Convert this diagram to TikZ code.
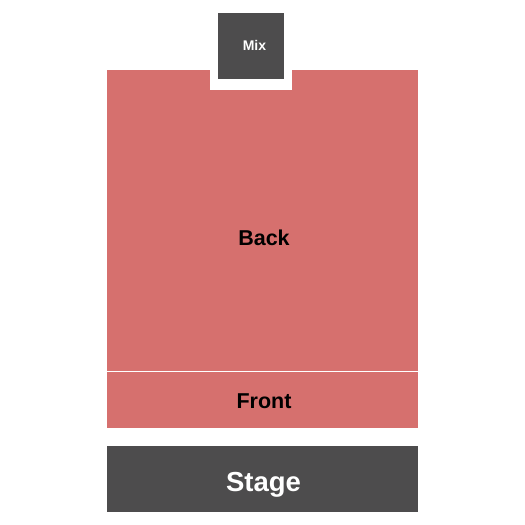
\documentclass[tikz,border=0pt]{standalone}
\usepackage{fontspec}
\setmainfont{Liberation Sans}
\definecolor{seatred}{HTML}{D6706E}
\definecolor{stagegray}{HTML}{4D4C4D}
\begin{document}
\begin{tikzpicture}[x=1pt,y=-1pt,
  section/.style = {fill=seatred, draw=none},
  darkbox/.style = {fill=stagegray, draw=none},
  label/.style = {font=\bfseries, text=black, inner sep=0pt}]
  \useasboundingbox (0,0) rectangle (525,525);
  % seating area
  \fill[seatred] (107,70) rectangle (418,428);
  \fill[white] (210,70) rectangle (292,90);
  \draw[white, line width=0.8pt] (107,371) -- (418,371);
  % mix and stage
  \fill[stagegray] (218,13) rectangle (284,79);
  \fill[stagegray] (107,446) rectangle (418,512);
  \node[label] (back) at (264,238) {\fontsize{21.5}{25}\selectfont Back};
  \node[label] (front) at (264,401) {\fontsize{21.5}{25}\selectfont Front};
  \node[label, text=white] (mix) at (254.5,45) {\fontsize{14}{16}\selectfont Mix};
  \node[label, text=white] (stage) at (263.5,484.5) {\fontsize{27.5}{32}\selectfont Stage};
\end{tikzpicture}
\end{document}
